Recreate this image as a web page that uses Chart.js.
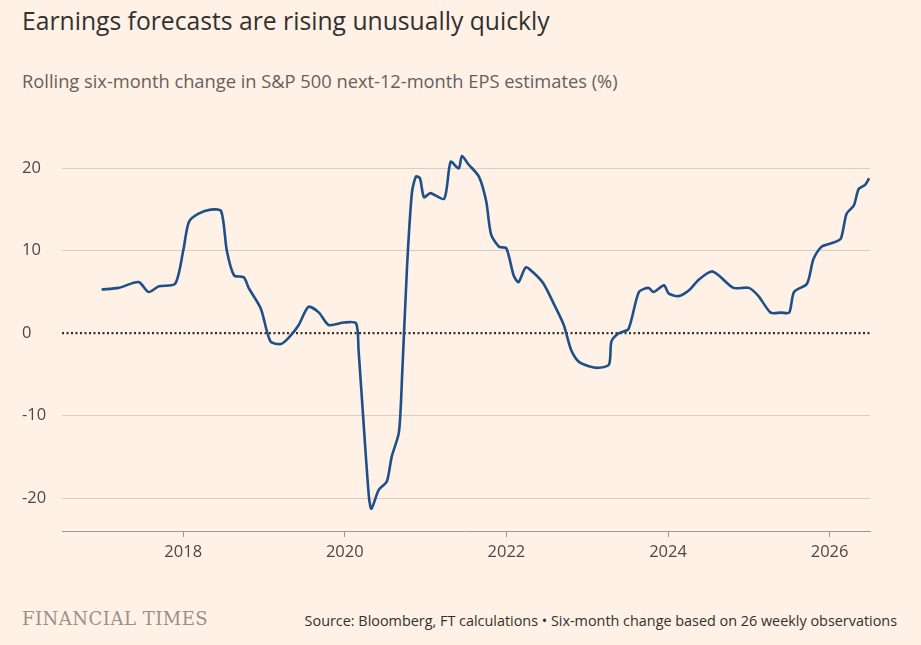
<!DOCTYPE html>
<html>
<head>
<meta charset="utf-8">
<script src="https://cdn.jsdelivr.net/npm/chart.js@4/dist/chart.umd.min.js"></script>
<style>
  body { margin: 0; background: #fff1e5; width: 921px; height: 645px; overflow: hidden; font-family: "Open Sans", "Noto Sans", sans-serif; }
  #title { position: absolute; left: 22px; top: 4px; font-size: 24.7px; color: #33302e; }
  #sub { position: absolute; left: 22px; top: 68px; font-size: 18.3px; color: #66605c; }
  #wrap { position: absolute; left: 0; top: 132px; width: 921px; height: 444px; }
  #ft { position: absolute; left: 22px; top: 608px; font-family: Georgia, "DejaVu Serif", "Liberation Serif", serif; font-size: 18px; color: #999189; letter-spacing: 0.5px; }
  #src { position: absolute; right: 24px; top: 611px; font-size: 14.4px; color: #33302e; }
</style>
</head>
<body>
<div id="title">Earnings forecasts are rising unusually quickly</div>
<div id="sub">Rolling six-month change in S&amp;P 500 next-12-month EPS estimates (%)</div>
<div id="wrap"><canvas id="chart"></canvas></div>
<div id="ft">FINANCIAL TIMES</div>
<div id="src">Source: Bloomberg, FT calculations • Six-month change based on 26 weekly observations</div>
<script>
var years = [2016.99, 2017.20, 2017.45, 2017.57, 2017.70, 2017.90, 2018.0, 2018.07, 2018.19, 2018.34, 2018.47, 2018.54, 2018.63, 2018.75, 2018.81, 2018.96,
  2019.08, 2019.21, 2019.31, 2019.43, 2019.55, 2019.68, 2019.80, 2019.99, 2020.14, 2020.17, 2020.24, 2020.30, 2020.33, 2020.42, 2020.52, 2020.58,
  2020.67, 2020.71, 2020.77, 2020.83, 2020.88, 2020.93, 2020.98, 2021.06, 2021.23, 2021.31, 2021.41, 2021.45, 2021.53, 2021.66, 2021.75, 2021.81,
  2021.91, 2022.0, 2022.09, 2022.15, 2022.24, 2022.34, 2022.46, 2022.59, 2022.71, 2022.80, 2022.90, 2023.02, 2023.14, 2023.27, 2023.30, 2023.39,
  2023.51, 2023.64, 2023.76, 2023.82, 2023.95, 2024.01, 2024.13, 2024.26, 2024.38, 2024.54, 2024.63, 2024.81, 2025.0, 2025.12, 2025.27, 2025.40,
  2025.50, 2025.56, 2025.72, 2025.80, 2025.90, 2026.05, 2026.14, 2026.21, 2026.30, 2026.36, 2026.44, 2026.49];
var epsChange = [5.3, 5.5, 6.2, 5.0, 5.7, 6.0, 10, 13.5, 14.5, 15, 14.8, 10, 7, 6.8, 5.5, 3,
  -1, -1.3, -0.5, 1.0, 3.2, 2.5, 1.0, 1.3, 1.2, -2, -12, -20, -21.3, -19, -18, -15,
  -12, -5, 8, 17, 19, 18.8, 16.5, 17, 16.3, 20.8, 20, 21.5, 20.5, 19, 16, 12,
  10.5, 10.3, 7, 6.2, 8, 7.3, 6, 3.5, 1, -2, -3.5, -4, -4.2, -3.8, -1, 0,
  0.5, 5, 5.5, 5, 5.8, 4.8, 4.5, 5.2, 6.5, 7.5, 7, 5.5, 5.5, 4.5, 2.5, 2.5,
  2.5, 5, 6, 9, 10.5, 11, 11.5, 14.5, 15.5, 17.5, 18, 18.8];
var yTicks = [-20, -10, 0, 10, 20];
var xTicks = [2018, 2020, 2022, 2024, 2026];

var points = [];
for (var i = 0; i < years.length; i++) {
    points.push({ x: years[i], y: epsChange[i] });
}

var zeroLine = {
    id: 'zeroLine',
    beforeDatasetsDraw: function (chart) {
        var ctx = chart.ctx, a = chart.chartArea;
        var y = chart.scales.y.getPixelForValue(0);
        ctx.save();
        ctx.strokeStyle = '#33302e';
        ctx.lineWidth = 2.2;
        ctx.setLineDash([2, 2.5]);
        ctx.beginPath();
        ctx.moveTo(a.left, y);
        ctx.lineTo(a.right, y);
        ctx.stroke();
        ctx.restore();
    }
};

new Chart(document.getElementById('chart').getContext('2d'), {
    type: 'line',
    data: {
        datasets: [{
            data: points,
            borderColor: '#1d5089',
            borderWidth: 2.6,
            pointRadius: 0,
            tension: 0.25,
            fill: false
        }]
    },
    options: {
        responsive: true,
        maintainAspectRatio: false,
        animation: false,
        layout: { padding: { top: 13, right: 51, left: 22, bottom: 0 } },
        plugins: { legend: { display: false }, tooltip: { enabled: false } },
        scales: {
            x: {
                type: 'linear', min: 2016.5, max: 2026.5,
                afterBuildTicks: function (s) { s.ticks = xTicks.map(function (v) { return { value: v }; }); },
                afterFit: function (s) { s.height = 45; },
                grid: { drawOnChartArea: false, color: '#a09890', tickLength: 6 },
                border: { color: '#a09890' },
                ticks: { color: '#4d4845', font: { size: 16.5, family: 'Open Sans' }, padding: 5,
                    callback: function (v) { return String(v); } }
            },
            y: {
                min: -24, max: 22,
                afterBuildTicks: function (s) { s.ticks = yTicks.map(function (v) { return { value: v }; }); },
                afterFit: function (s) { s.width = 40; },
                grid: { drawTicks: false, color: function (c) { return c.tick && c.tick.value === 0 ? 'rgba(0,0,0,0)' : '#d9cdc1'; } },
                border: { display: false },
                ticks: { color: '#4d4845', font: { size: 16.5, family: 'Open Sans' }, crossAlign: 'far', padding: 10 }
            }
        }
    },
    plugins: [zeroLine]
});
</script>
</body>
</html>
